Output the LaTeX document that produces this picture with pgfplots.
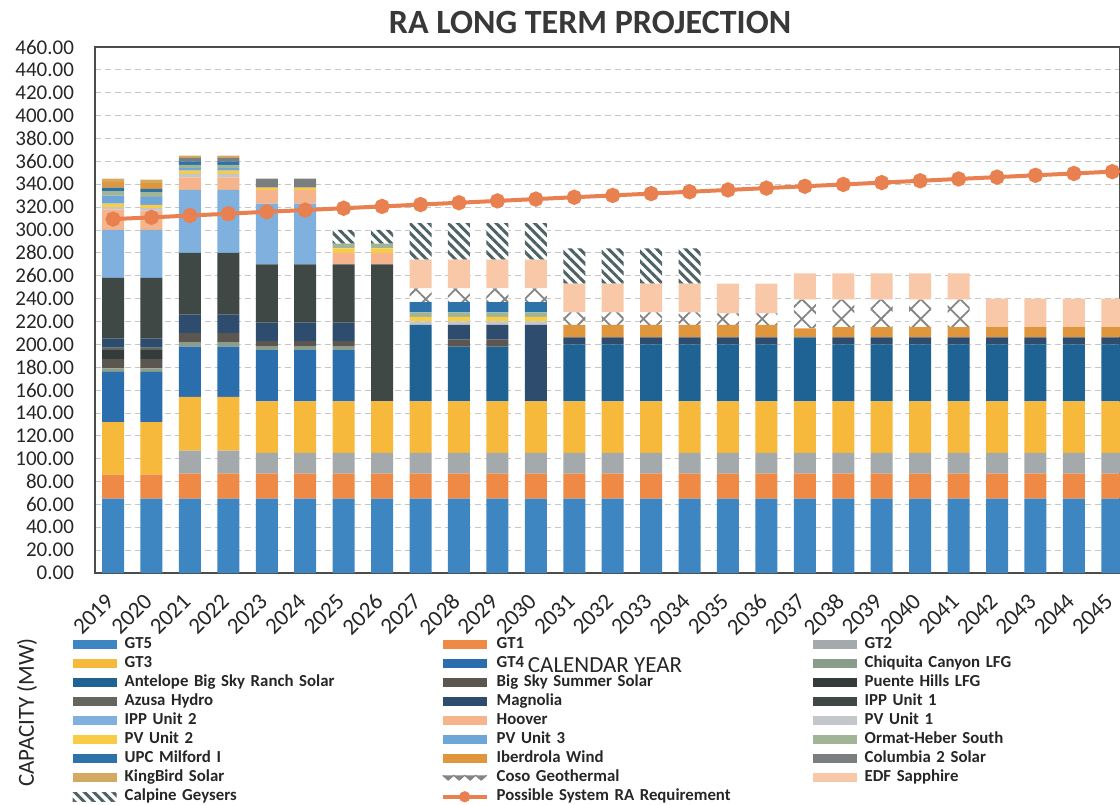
\documentclass[border=0pt]{standalone}
\usepackage{fontspec}
\setmainfont{Carlito}
\usepackage{pgfplots}
\pgfplotsset{compat=1.18}
\usepackage{pgfplotstable}
\usetikzlibrary{patterns.meta}

\definecolor{cGv}{HTML}{3E86C1}
\definecolor{cGi}{HTML}{EE8A45}
\definecolor{cGii}{HTML}{A4A9AC}
\definecolor{cGiii}{HTML}{F6B93B}
\definecolor{cGiv}{HTML}{2A6EAE}
\definecolor{cChq}{HTML}{8A9D8A}
\definecolor{cAnt}{HTML}{1E6393}
\definecolor{cBss}{HTML}{5B5650}
\definecolor{cPnt}{HTML}{353B3A}
\definecolor{cAzu}{HTML}{62665E}
\definecolor{cMag}{HTML}{2D4C6E}
\definecolor{cIpa}{HTML}{3F4845}
\definecolor{cIpb}{HTML}{7FB0DE}
\definecolor{cHoo}{HTML}{F5B48C}
\definecolor{cPva}{HTML}{C4C7C9}
\definecolor{cPvb}{HTML}{F8CC45}
\definecolor{cPvc}{HTML}{6FA6D8}
\definecolor{cOrm}{HTML}{A2B496}
\definecolor{cUpc}{HTML}{2D72A8}
\definecolor{cIbe}{HTML}{E0963C}
\definecolor{cCol}{HTML}{7A7E7E}
\definecolor{cKin}{HTML}{D4AA62}
\definecolor{cCos}{HTML}{858585}
\definecolor{cEdf}{HTML}{F8C8A8}
\definecolor{cCal}{HTML}{4D6363}
\definecolor{cReq}{HTML}{E8804F}

\pgfplotstableread{
yr g5 g1 g2 g3 g4 chq ant bss pnt azu mag ipa ipb hoo pva pvb pvc orm upc ibe col kin cos edf cal req
2019 65 21 0 46 44 3 0 8 8 2 8 53 42 18 2 3 7 4 3 5 0 3 0 0 0 309.5
2020 65 21 0 46 44 3 0 8 8 2 8 53 42 17 2 3 7 4 3 5 0 3 0 0 0 311.0
2021 65 22 20 47 44 4 0 8 0 0 16 54 55 11 3 3 2 3 3 0 3 2 0 0 0 312.6
2022 65 22 20 47 44 4 0 8 0 0 16 54 55 11 3 3 2 3 3 0 3 2 0 0 0 314.2
2023 65 22 18 45 45 3 0 5 0 0 16 51 53 12 0 2 0 0 0 0 8 0 0 0 0 315.9
2024 65 22 18 45 45 3 0 5 0 0 16 51 53 12 0 2 0 0 0 0 8 0 0 0 0 317.4
2025 65 22 18 45 45 3 0 5 0 0 16 51 0 10 0 4 0 4 0 0 0 0 0 0 12 319.0
2026 65 22 18 45 0 0 0 0 0 0 0 120 0 10 0 4 0 4 0 0 0 0 0 0 12 320.6
2027 65 22 18 45 0 0 67 0 0 0 0 0 0 0 3 4 0 4 9 0 0 0 12 25 32 322.2
2028 65 22 18 45 0 0 48 6 0 0 13 0 0 0 3 4 0 4 9 0 0 0 12 25 32 323.8
2029 65 22 18 45 0 0 48 6 0 0 13 0 0 0 3 4 0 4 9 0 0 0 12 25 32 325.4
2030 65 22 18 45 0 0 0 0 0 0 67 0 0 0 3 4 0 4 9 0 0 0 12 25 32 327.0
2031 65 22 18 45 0 0 50 0 0 0 6 0 0 0 0 0 0 0 0 11 0 0 11 25 31 328.6
2032 65 22 18 45 0 0 50 0 0 0 6 0 0 0 0 0 0 0 0 11 0 0 11 25 31 330.2
2033 65 22 18 45 0 0 50 0 0 0 6 0 0 0 0 0 0 0 0 11 0 0 11 25 31 331.8
2034 65 22 18 45 0 0 50 0 0 0 6 0 0 0 0 0 0 0 0 11 0 0 11 25 31 333.4
2035 65 22 18 45 0 0 50 0 0 0 6 0 0 0 0 0 0 0 0 11 0 0 10 26 0 335.0
2036 65 22 18 45 0 0 50 0 0 0 6 0 0 0 0 0 0 0 0 11 0 0 10 26 0 336.6
2037 65 22 18 45 0 0 56 0 0 0 0 0 0 0 0 0 0 0 0 8 0 0 25 23 0 338.2
2038 65 22 18 45 0 0 50 0 0 0 6 0 0 0 0 0 0 0 0 9 0 0 24 23 0 339.8
2039 65 22 18 45 0 0 50 0 0 0 6 0 0 0 0 0 0 0 0 9 0 0 24 23 0 341.4
2040 65 22 18 45 0 0 50 0 0 0 6 0 0 0 0 0 0 0 0 9 0 0 24 23 0 343.0
2041 65 22 18 45 0 0 50 0 0 0 6 0 0 0 0 0 0 0 0 9 0 0 24 23 0 344.6
2042 65 22 18 45 0 0 50 0 0 0 6 0 0 0 0 0 0 0 0 9 0 0 0 25 0 346.2
2043 65 22 18 45 0 0 50 0 0 0 6 0 0 0 0 0 0 0 0 9 0 0 0 25 0 347.8
2044 65 22 18 45 0 0 50 0 0 0 6 0 0 0 0 0 0 0 0 9 0 0 0 25 0 349.4
2045 65 22 18 45 0 0 50 0 0 0 6 0 0 0 0 0 0 0 0 9 0 0 0 25 0 351.0
}\datatable

\pgfplotsset{
  common/.style={
    at={(47.5pt,-23.5pt)}, anchor=north west,
    scale only axis, width=512.5pt, height=263pt,
    xmin=2018.53, xmax=2045.2, ymin=0, ymax=460,
  },
  bs/.style={fill=#1, draw=none},
}

\begin{document}
\begin{tikzpicture}
\path[use as bounding box] (0,0) rectangle (560pt,-402pt);
\begin{axis}[common,
  ybar stacked, bar width=11pt,
  ytick={0,20,...,460}, xtick={2019,...,2045},
  /pgf/number format/assume math mode=true,
  yticklabel style={/pgf/number format/fixed, /pgf/number format/fixed zerofill, /pgf/number format/precision=2, font=\fontsize{10.5}{12}\selectfont, text=black!85, xshift=-7pt},
  xticklabel style={/pgf/number format/1000 sep={}, xshift=-4.3pt, yshift=-8pt, rotate=45, anchor=north east, font=\fontsize{11.5}{13}\selectfont, text=black!85, inner sep=1pt},
  major tick length=0pt,
  ymajorgrids, major grid style={dash pattern=on 3pt off 2pt, black!22},
  axis line style={black!70, line width=0.8pt},
  title={RA LONG TERM PROJECTION},
  title style={font=\fontsize{17}{19}\selectfont\bfseries, text=black!78, at={(axis description cs:0.483,1)}, anchor=south, yshift=-3pt},
  xlabel={CALENDAR YEAR},
  xlabel style={font=\fontsize{11.5}{13}\selectfont, text=black!85, at={(axis description cs:0.4976,-0.175)}, anchor=center},
  ylabel={CAPACITY (MW)},
  ylabel style={font=\fontsize{11.5}{13}\selectfont, text=black!85, at={(axis description cs:-0.0663,-0.265)}, anchor=center},
  legend columns=3,
  legend image code/.code={\path[#1] (0pt,-2.2pt) rectangle (22pt,2.2pt);},
  legend style={draw=none, fill=none, at={(axis description cs:-0.028,-0.110)}, anchor=north west,
    row sep=0pt, font=\fontsize{8.4}{9}\selectfont\bfseries, text=black!85,
    /tikz/every odd column/.append style={column sep=2.5pt},
    /tikz/every even column/.append style={column sep=0pt},
    nodes={text width=156.5pt, inner xsep=1.5pt, inner ysep=0.85pt, text height=6pt, text depth=1.8pt, align=left}},
]
\addplot[bs=cGv] table[x=yr,y=g5]{\datatable}; \addlegendentry{GT5}
\addplot[bs=cGi] table[x=yr,y=g1]{\datatable}; \addlegendentry{GT1}
\addplot[bs=cGii] table[x=yr,y=g2]{\datatable}; \addlegendentry{GT2}
\addplot[bs=cGiii] table[x=yr,y=g3]{\datatable}; \addlegendentry{GT3}
\addplot[bs=cGiv] table[x=yr,y=g4]{\datatable}; \addlegendentry{GT4}
\addplot[bs=cChq] table[x=yr,y=chq]{\datatable}; \addlegendentry{Chiquita Canyon LFG}
\addplot[bs=cAnt] table[x=yr,y=ant]{\datatable}; \addlegendentry{Antelope Big Sky Ranch Solar}
\addplot[bs=cBss] table[x=yr,y=bss]{\datatable}; \addlegendentry{Big Sky Summer Solar}
\addplot[bs=cPnt] table[x=yr,y=pnt]{\datatable}; \addlegendentry{Puente Hills LFG}
\addplot[bs=cAzu] table[x=yr,y=azu]{\datatable}; \addlegendentry{Azusa Hydro}
\addplot[bs=cMag] table[x=yr,y=mag]{\datatable}; \addlegendentry{Magnolia}
\addplot[bs=cIpa] table[x=yr,y=ipa]{\datatable}; \addlegendentry{IPP Unit 1}
\addplot[bs=cIpb] table[x=yr,y=ipb]{\datatable}; \addlegendentry{IPP Unit 2}
\addplot[bs=cHoo] table[x=yr,y=hoo]{\datatable}; \addlegendentry{Hoover}
\addplot[bs=cPva] table[x=yr,y=pva]{\datatable}; \addlegendentry{PV Unit 1}
\addplot[bs=cPvb] table[x=yr,y=pvb]{\datatable}; \addlegendentry{PV Unit 2}
\addplot[bs=cPvc] table[x=yr,y=pvc]{\datatable}; \addlegendentry{PV Unit 3}
\addplot[bs=cOrm] table[x=yr,y=orm]{\datatable}; \addlegendentry{Ormat-Heber South}
\addplot[bs=cUpc] table[x=yr,y=upc]{\datatable}; \addlegendentry{UPC Milford I}
\addplot[bs=cIbe] table[x=yr,y=ibe]{\datatable}; \addlegendentry{Iberdrola Wind}
\addplot[bs=cCol] table[x=yr,y=col]{\datatable}; \addlegendentry{Columbia 2 Solar}
\addplot[bs=cKin] table[x=yr,y=kin]{\datatable}; \addlegendentry{KingBird Solar}
\addplot[draw=none, preaction={fill=white}, pattern={Hatch[angle=45, distance=7pt, line width=0.9pt]}, pattern color=cCos,
  legend image code/.code={\draw[cCos, line width=0.55pt, line join=round] (0pt,1.2pt) -- (2.75pt,-1.2pt) -- (5.5pt,1.2pt) -- (8.25pt,-1.2pt) -- (11pt,1.2pt) -- (13.75pt,-1.2pt) -- (16.5pt,1.2pt) -- (19.25pt,-1.2pt) -- (22pt,1.2pt);}]
  table[x=yr,y=cos]{\datatable}; \addlegendentry{Coso Geothermal}
\addplot[bs=cEdf] table[x=yr,y=edf]{\datatable}; \addlegendentry{EDF Sapphire}
\addplot[draw=none, preaction={fill=white}, pattern={Lines[angle=-45, distance=3.4pt, line width=1.5pt]}, pattern color=cCal]
  table[x=yr,y=cal]{\datatable}; \addlegendentry{Calpine Geysers}
\addlegendimage{legend image code/.code={\draw[cReq, line width=2pt] (0pt,0pt) -- (22pt,0pt); \fill[cReq] (11pt,0pt) circle (2.6pt);}}
\addlegendentry{Possible System RA Requirement}
\end{axis}
\begin{axis}[common, hide axis]
\addplot[color=cReq, line width=2pt, mark=*, mark size=2.8pt, mark options={fill=cReq, draw=cReq}] table[x=yr,y=req]{\datatable};
\end{axis}
\end{tikzpicture}
\end{document}
